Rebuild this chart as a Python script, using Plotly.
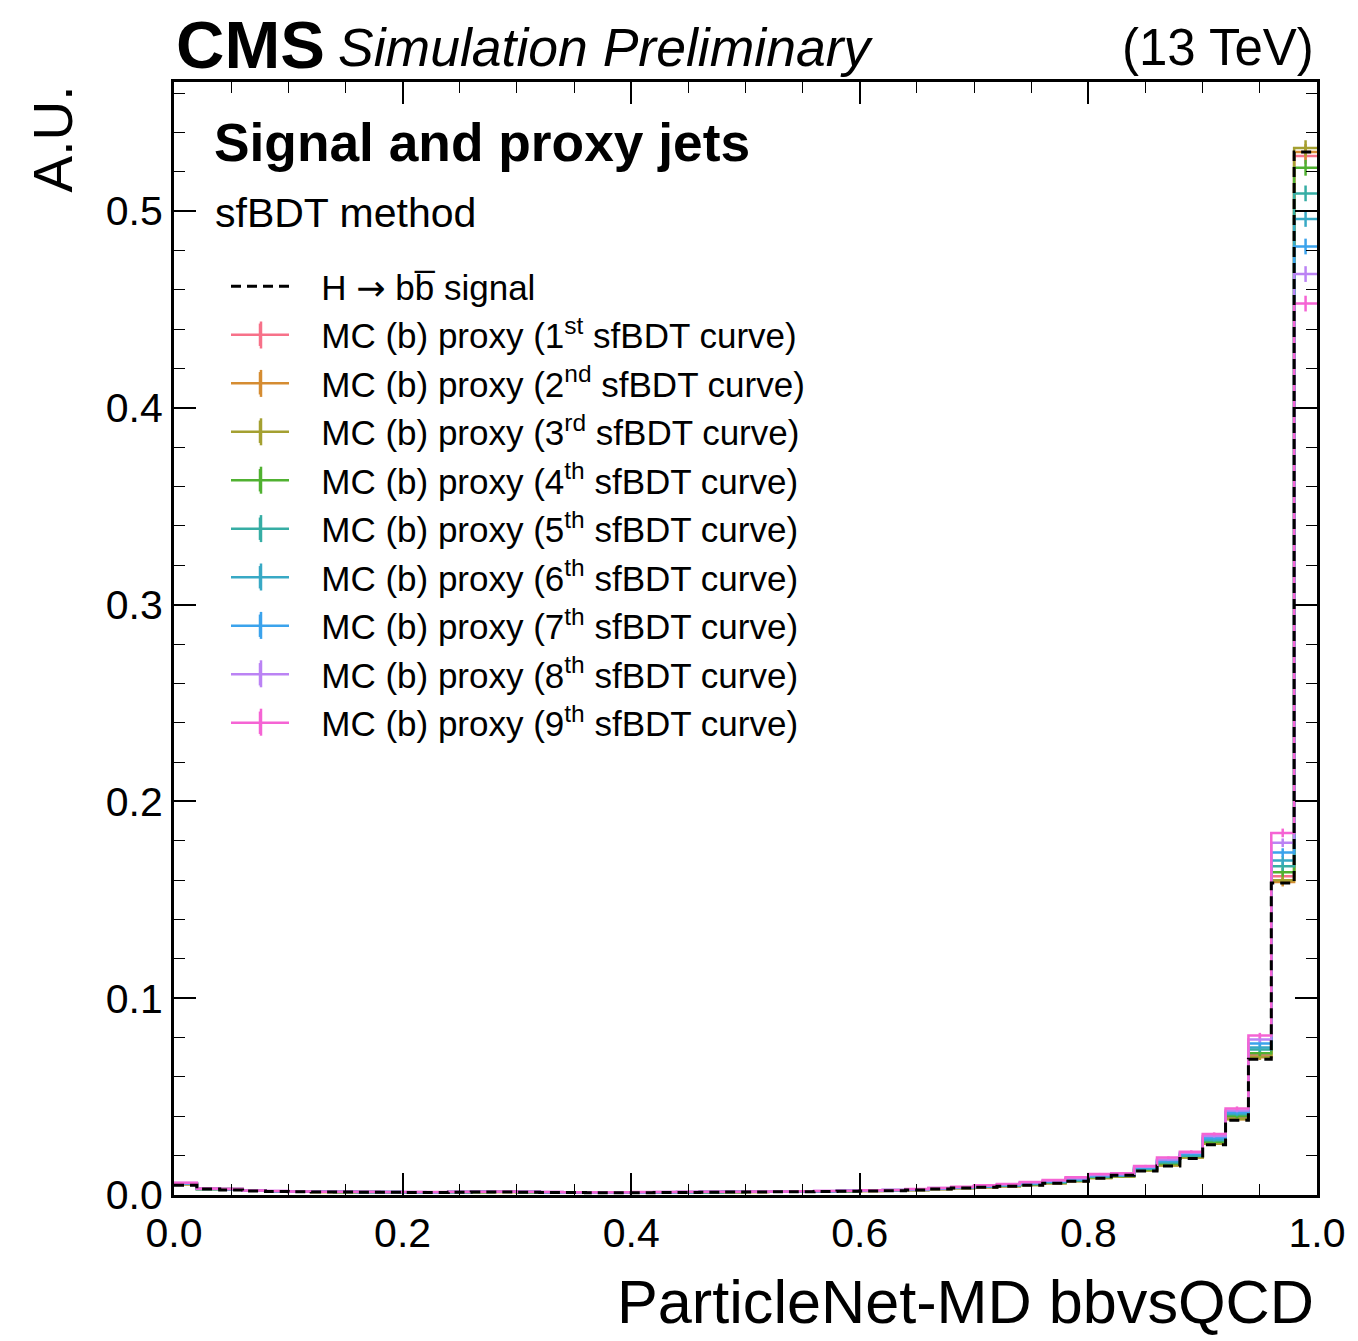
import plotly.graph_objects as go

# ---------------- data ----------------
bin_edges = [i / 50 for i in range(51)]

signal = [0.0050, 0.0030, 0.0025, 0.0020, 0.0018, 0.0016, 0.0015, 0.0015, 0.0014, 0.0014,
          0.0013, 0.0013, 0.0014, 0.0015, 0.0015, 0.0014, 0.0013, 0.0013, 0.0012, 0.0012,
          0.0012, 0.0013, 0.0013, 0.0014, 0.0015, 0.0015, 0.0016, 0.0017, 0.0018, 0.0019,
          0.0020, 0.0022, 0.0025, 0.0030, 0.0035, 0.0040, 0.0045, 0.0050, 0.0060, 0.0070,
          0.0085, 0.0100, 0.0122, 0.0148, 0.0185, 0.0255, 0.0380, 0.0690, 0.1585, 0.5300]

proxy1 = [0.0058, 0.0032, 0.0030, 0.0022, 0.0019, 0.0017, 0.0016, 0.0015, 0.0015, 0.0014,
          0.0014, 0.0013, 0.0014, 0.0015, 0.0016, 0.0015, 0.0013, 0.0013, 0.0012, 0.0012,
          0.0013, 0.0013, 0.0014, 0.0014, 0.0015, 0.0016, 0.0016, 0.0017, 0.0018, 0.0019,
          0.0021, 0.0023, 0.0026, 0.0031, 0.0036, 0.0041, 0.0046, 0.0053, 0.0062, 0.0072,
          0.0088, 0.0095, 0.0128, 0.0155, 0.0195, 0.0270, 0.0390, 0.0710, 0.1620, 0.5280]
proxy2 = [0.0055, 0.0031, 0.0031, 0.0021, 0.0018, 0.0016, 0.0015, 0.0015, 0.0014, 0.0014,
          0.0013, 0.0013, 0.0014, 0.0015, 0.0015, 0.0014, 0.0013, 0.0012, 0.0012, 0.0012,
          0.0012, 0.0013, 0.0013, 0.0014, 0.0015, 0.0015, 0.0016, 0.0017, 0.0018, 0.0019,
          0.0020, 0.0022, 0.0025, 0.0030, 0.0035, 0.0040, 0.0045, 0.0051, 0.0060, 0.0070,
          0.0086, 0.0094, 0.0125, 0.0150, 0.0190, 0.0260, 0.0385, 0.0700, 0.1590, 0.5300]
proxy3 = [0.0055, 0.0030, 0.0029, 0.0021, 0.0018, 0.0016, 0.0015, 0.0014, 0.0014, 0.0014,
          0.0013, 0.0013, 0.0014, 0.0014, 0.0015, 0.0014, 0.0013, 0.0013, 0.0012, 0.0012,
          0.0012, 0.0013, 0.0013, 0.0014, 0.0014, 0.0015, 0.0016, 0.0017, 0.0018, 0.0019,
          0.0020, 0.0022, 0.0025, 0.0030, 0.0035, 0.0040, 0.0045, 0.0051, 0.0060, 0.0071,
          0.0087, 0.0094, 0.0125, 0.0151, 0.0190, 0.0262, 0.0386, 0.0702, 0.1600, 0.5320]
proxy4 = [0.0057, 0.0031, 0.0029, 0.0022, 0.0019, 0.0017, 0.0016, 0.0015, 0.0015, 0.0014,
          0.0014, 0.0013, 0.0014, 0.0015, 0.0016, 0.0015, 0.0013, 0.0013, 0.0012, 0.0013,
          0.0013, 0.0013, 0.0014, 0.0014, 0.0015, 0.0016, 0.0017, 0.0017, 0.0018, 0.0020,
          0.0021, 0.0023, 0.0026, 0.0031, 0.0036, 0.0042, 0.0047, 0.0054, 0.0063, 0.0073,
          0.0090, 0.0096, 0.0130, 0.0160, 0.0198, 0.0270, 0.0400, 0.0720, 0.1640, 0.5220]
proxy5 = [0.0058, 0.0031, 0.0029, 0.0022, 0.0019, 0.0017, 0.0016, 0.0015, 0.0015, 0.0014,
          0.0014, 0.0014, 0.0015, 0.0015, 0.0016, 0.0015, 0.0014, 0.0013, 0.0013, 0.0013,
          0.0013, 0.0014, 0.0014, 0.0015, 0.0015, 0.0016, 0.0017, 0.0018, 0.0019, 0.0020,
          0.0021, 0.0024, 0.0027, 0.0032, 0.0037, 0.0043, 0.0048, 0.0056, 0.0065, 0.0075,
          0.0093, 0.0098, 0.0133, 0.0165, 0.0200, 0.0278, 0.0410, 0.0740, 0.1670, 0.5090]
proxy6 = [0.0059, 0.0031, 0.0029, 0.0022, 0.0019, 0.0017, 0.0016, 0.0016, 0.0015, 0.0015,
          0.0014, 0.0014, 0.0015, 0.0016, 0.0016, 0.0015, 0.0014, 0.0013, 0.0013, 0.0013,
          0.0013, 0.0014, 0.0014, 0.0015, 0.0016, 0.0016, 0.0017, 0.0018, 0.0019, 0.0020,
          0.0022, 0.0024, 0.0027, 0.0033, 0.0038, 0.0044, 0.0050, 0.0058, 0.0067, 0.0078,
          0.0096, 0.0100, 0.0136, 0.0170, 0.0205, 0.0282, 0.0415, 0.0750, 0.1700, 0.4960]
proxy7 = [0.0060, 0.0032, 0.0030, 0.0022, 0.0019, 0.0017, 0.0016, 0.0016, 0.0015, 0.0015,
          0.0014, 0.0014, 0.0015, 0.0016, 0.0017, 0.0016, 0.0014, 0.0014, 0.0013, 0.0013,
          0.0014, 0.0014, 0.0015, 0.0015, 0.0016, 0.0017, 0.0018, 0.0018, 0.0019, 0.0021,
          0.0022, 0.0025, 0.0028, 0.0034, 0.0039, 0.0045, 0.0052, 0.0060, 0.0069, 0.0080,
          0.0099, 0.0103, 0.0140, 0.0175, 0.0210, 0.0290, 0.0420, 0.0770, 0.1740, 0.4820]
proxy8 = [0.0061, 0.0032, 0.0030, 0.0023, 0.0020, 0.0018, 0.0017, 0.0016, 0.0015, 0.0015,
          0.0015, 0.0014, 0.0015, 0.0016, 0.0017, 0.0016, 0.0015, 0.0014, 0.0013, 0.0014,
          0.0014, 0.0015, 0.0015, 0.0016, 0.0016, 0.0017, 0.0018, 0.0019, 0.0020, 0.0021,
          0.0023, 0.0025, 0.0029, 0.0035, 0.0040, 0.0047, 0.0054, 0.0063, 0.0072, 0.0085,
          0.0102, 0.0106, 0.0143, 0.0180, 0.0215, 0.0300, 0.0430, 0.0790, 0.1790, 0.4680]
proxy9 = [0.0062, 0.0033, 0.0031, 0.0023, 0.0020, 0.0018, 0.0017, 0.0017, 0.0016, 0.0015,
          0.0015, 0.0015, 0.0016, 0.0017, 0.0018, 0.0017, 0.0015, 0.0014, 0.0014, 0.0014,
          0.0015, 0.0015, 0.0016, 0.0016, 0.0017, 0.0018, 0.0018, 0.0019, 0.0020, 0.0022,
          0.0024, 0.0026, 0.0030, 0.0036, 0.0042, 0.0049, 0.0056, 0.0066, 0.0076, 0.0090,
          0.0107, 0.0110, 0.0147, 0.0190, 0.0220, 0.0310, 0.0440, 0.0810, 0.1840, 0.4530]

proxy_err = [0.0004, 0.0003, 0.0003, 0.0003, 0.0003, 0.0003, 0.0003, 0.0003, 0.0003, 0.0003,
             0.0003, 0.0003, 0.0003, 0.0003, 0.0003, 0.0003, 0.0003, 0.0003, 0.0003, 0.0003,
             0.0003, 0.0003, 0.0003, 0.0003, 0.0003, 0.0003, 0.0003, 0.0003, 0.0003, 0.0003,
             0.0003, 0.0003, 0.0003, 0.0003, 0.0003, 0.0003, 0.0003, 0.0003, 0.0004, 0.0004,
             0.0005, 0.0005, 0.0006, 0.0006, 0.0007, 0.0008, 0.0010, 0.0014, 0.0022, 0.0040]

proxies = [proxy1, proxy2, proxy3, proxy4, proxy5, proxy6, proxy7, proxy8, proxy9]
ordinals = ["1<sup>st</sup>", "2<sup>nd</sup>", "3<sup>rd</sup>", "4<sup>th</sup>", "5<sup>th</sup>",
            "6<sup>th</sup>", "7<sup>th</sup>", "8<sup>th</sup>", "9<sup>th</sup>"]
proxy_labels = [f"MC (b) proxy ({o} sfBDT curve)" for o in ordinals]
signal_label = "H <span style='font-family:DejaVu Sans'>\u2192</span> bb\u0305 signal"
colors = ["#f77189", "#d58c32", "#a4a031", "#50b131", "#36ada4",
          "#38a9c5", "#3ba3ec", "#bb83f4", "#f564d4"]

x_ticks = [0.0, 0.2, 0.4, 0.6, 0.8, 1.0]
y_ticks = [0.0, 0.1, 0.2, 0.3, 0.4, 0.5]

# ---------------- layout geometry ----------------
W, H = 1358, 1341
L, R, T, B = 174, 1317, 82, 1195
FONT = "Liberation Sans, Arial, Helvetica, sans-serif"
GAP = "\u2002\u00a0"  # space between legend symbol and text
LEG_FONT = 35
LEG_FIRST = 335.5   # pixel centre of first proxy legend entry
LEG_STEP = 48.4     # pixel spacing of legend entries


def px(xp):
    return (xp - L) / (R - L)


def py(yp):
    return (B - yp) / (B - T)


centers = [(bin_edges[i] + bin_edges[i + 1]) / 2 for i in range(50)]

fig = go.Figure()

for i, (vals, col, lab) in enumerate(zip(proxies, colors, proxy_labels)):
    fig.add_trace(go.Scatter(
        x=bin_edges, y=vals + [vals[-1]], mode="lines", line=dict(color=col, width=2.5, shape="hv"),
        showlegend=False, hoverinfo="skip"))
    fig.add_trace(go.Scatter(
        x=centers, y=vals, mode="markers", marker=dict(size=0.1, color=col),
        error_y=dict(type="data", array=proxy_err, color=col, thickness=2.5, width=0),
        showlegend=False, hoverinfo="skip"))
    # legend entry (line with vertical tick = errorbar cross)
    fig.add_trace(go.Scatter(
        x=[None], y=[None], mode="lines+markers", name=GAP + lab, legendrank=i + 2,
        line=dict(color=col, width=2.5),
        marker=dict(symbol="line-ns", size=27, line=dict(color=col, width=2.5))))

fig.add_trace(go.Scatter(
    x=bin_edges, y=signal + [signal[-1]], mode="lines", name=GAP + signal_label, legendrank=1,
    line=dict(color="black", width=3, dash="10px,6px", shape="hv")))

# taller vertical arms of the legend crosses (error-bar look)
shapes = []
for k, col in enumerate(colors):
    yc = LEG_FIRST + LEG_STEP * k
    shapes.append(dict(type="line", xref="paper", yref="paper", x0=px(261), x1=px(261),
                       y0=py(yc - 14), y1=py(yc + 13), line=dict(color=col, width=2.5)))

fig.update_layout(
    width=W, height=H,
    margin=dict(l=L, r=W - R, t=T, b=H - B),
    paper_bgcolor="white", plot_bgcolor="white",
    font=dict(family=FONT, color="black"),
    showlegend=True,
    shapes=shapes,
    legend=dict(x=px(226), y=py(257), xanchor="left", yanchor="top",
                font=dict(size=LEG_FONT, family=FONT), itemwidth=58,
                bgcolor="rgba(0,0,0,0)", tracegroupgap=0),
    xaxis=dict(range=[0, 1], tickvals=x_ticks, tickformat=".1f", ticks="inside", ticklen=22,
               tickwidth=1.5, tickcolor="black", showline=True, linewidth=3, linecolor="black",
               mirror="allticks", showgrid=False, zeroline=False,
               tickfont=dict(size=41, family=FONT),
               minor=dict(dtick=0.05, ticks="inside", ticklen=11, tickwidth=1.2, tickcolor="black")),
    yaxis=dict(range=[0, 0.5656], tickvals=y_ticks, tickformat=".1f", ticks="inside", ticklen=22,
               tickwidth=1.5, tickcolor="black", showline=True, linewidth=3, linecolor="black",
               mirror="allticks", showgrid=False, zeroline=False,
               tickfont=dict(size=41, family=FONT),
               minor=dict(dtick=0.02, ticks="inside", ticklen=11, tickwidth=1.2, tickcolor="black")),
)

ann = [
    dict(text="<b>CMS</b>", x=px(174), y=py(45), xanchor="left", yanchor="middle", font=dict(size=67)),
    dict(text="<i>Simulation Preliminary</i>", x=px(336), y=py(48), xanchor="left", yanchor="middle",
         font=dict(size=53.5)),
    dict(text="(13 TeV)", x=px(1316), y=py(48), xanchor="right", yanchor="middle", font=dict(size=51)),
    dict(text="<b>Signal and proxy jets</b>", x=px(212), y=py(142), xanchor="left", yanchor="middle",
         font=dict(size=53.3)),
    dict(text="sfBDT method", x=px(213), y=py(213), xanchor="left", yanchor="middle", font=dict(size=41)),
    dict(text="ParticleNet-MD bbvsQCD", x=px(1316), y=py(1302), xanchor="right", yanchor="middle",
         font=dict(size=61.2)),
    dict(text="A.U.", x=px(52), y=py(84), xanchor="center", yanchor="top", textangle=-90,
         font=dict(size=55)),
]
for a in ann:
    a.update(xref="paper", yref="paper", showarrow=False)
    a["font"]["family"] = FONT
    a["font"]["color"] = "black"
    fig.add_annotation(**a)

fig.write_html("out.html")
